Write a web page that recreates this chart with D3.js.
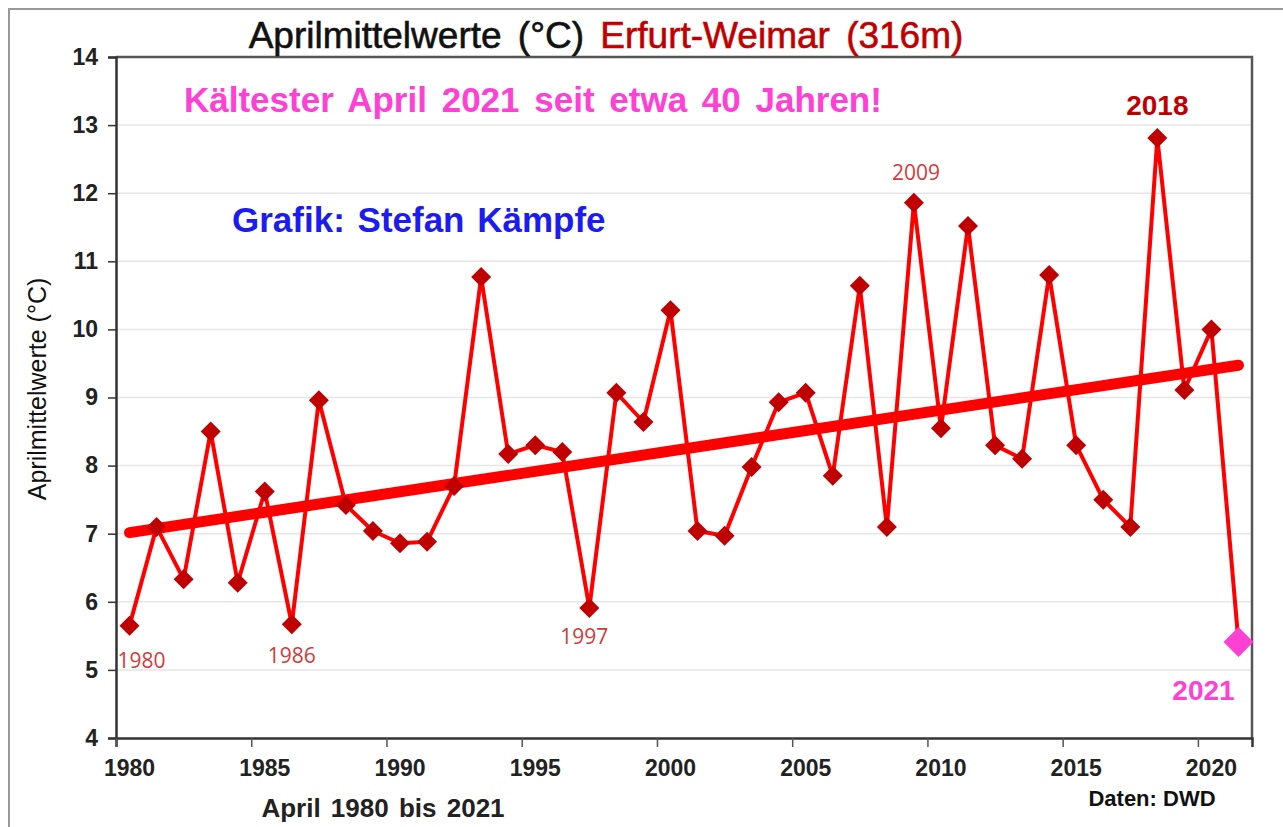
<!DOCTYPE html>
<html>
<head>
<meta charset="utf-8">
<script src="https://cdn.jsdelivr.net/npm/d3@7"></script>
<style>
  body { margin: 0; background: #fff; }
  svg text { font-family: "Liberation Sans", Arial, sans-serif; }
</style>
</head>
<body>
<div id="chart"></div>
<script>
// April mean temperatures Erfurt-Weimar
var years = d3.range(1980, 2022);
var temps = [5.65, 7.1, 6.33, 8.5, 6.28, 7.62, 5.67, 8.96, 7.42, 7.04,
             6.86, 6.88, 7.7, 10.77, 8.17, 8.3, 8.2, 5.91, 9.07, 8.64,
             10.28, 7.04, 6.97, 7.98, 8.93, 9.07, 7.85, 10.64, 7.1, 11.86,
             8.55, 11.52, 8.3, 8.1, 10.8, 8.3, 7.5, 7.1, 12.81, 9.11,
             10.0, 5.41];
var xTicks = d3.range(1980, 2021, 5);
var yTicks = d3.range(4, 15, 1);
// labelled years: [year, dx, dy, style]
var yearLabels = [[1980, 12, 42, "small"], [1986, 0, 39, "small"], [1997, -5, 36, "small"],
                  [2009, 2, -23, "small"], [2018, 0, -23, "big"], [2021, -35, 58, "pink"]];

var width = 1283, height = 827;
var svg = d3.select("#chart").append("svg")
    .attr("width", width)
    .attr("height", height);

// outer frame
svg.append("path")
    .attr("d", "M9," + height + "V9H" + width)
    .attr("fill", "none")
    .attr("stroke", "#999")
    .attr("stroke-width", 2);

var x = d3.scaleLinear().domain([1980, 2022]).range([116, 1252]);
var y = d3.scaleLinear().domain([4, 14]).range([738, 57]);

// gridlines
svg.append("g").selectAll("line")
    .data(yTicks.slice(1, -1))
    .enter().append("line")
    .attr("x1", x(1980)).attr("x2", x(2022))
    .attr("y1", d => y(d)).attr("y2", d => y(d))
    .attr("stroke", "#e6e6e6")
    .attr("stroke-width", 1.5);

// plot border top/right
svg.append("path")
    .attr("d", "M" + x(1980) + "," + y(14) + "H" + x(2022) + "V" + y(4))
    .attr("fill", "none")
    .attr("stroke", "#555")
    .attr("stroke-width", 2.5);

// y axis
var yAxis = svg.append("g")
    .attr("transform", "translate(" + x(1980) + ",0)")
    .call(d3.axisLeft(y).tickValues(yTicks).tickSize(8).tickPadding(10).tickFormat(d3.format("d")));
yAxis.select(".domain").attr("stroke", "#333").attr("stroke-width", 2.5);
yAxis.selectAll(".tick line").attr("stroke", "#333").attr("stroke-width", 1.5);
yAxis.selectAll("text")
    .attr("font-size", 23).attr("font-weight", "bold").attr("fill", "#222")
    .attr("font-family", "Liberation Sans, Arial, sans-serif");

// x axis: ticks at year starts, labels centred in the year
var xAxis = svg.append("g")
    .attr("transform", "translate(0," + y(4) + ")")
    .call(d3.axisBottom(x).tickValues(xTicks).tickSize(9).tickFormat(""));
xAxis.select(".domain").attr("stroke", "#333").attr("stroke-width", 2.5);
xAxis.selectAll(".tick line").attr("stroke", "#555").attr("stroke-width", 1.5);

svg.append("g").selectAll("text")
    .data(xTicks)
    .enter().append("text")
    .attr("x", d => x(d + 0.5))
    .attr("y", 776)
    .attr("text-anchor", "middle")
    .attr("font-size", 23)
    .attr("font-weight", "bold")
    .attr("fill", "#222")
    .text(d => d);

// trend line (least squares)
var n = years.length;
var mx = d3.mean(years), my = d3.mean(temps);
var slope = d3.sum(years, (v, i) => (v - mx) * (temps[i] - my)) / d3.sum(years, v => (v - mx) * (v - mx));
var icpt = my - slope * mx;
var trendYears = [years[0], years[n - 1]];
svg.append("path")
    .datum(trendYears)
    .attr("d", d3.line().x(d => x(d + 0.5)).y(d => y(icpt + slope * d)))
    .attr("stroke", "#ff0000")
    .attr("stroke-width", 11)
    .attr("stroke-linecap", "round")
    .attr("fill", "none");

// data line
var pts = years.map((v, i) => ({year: v, t: temps[i]}));
svg.append("path")
    .datum(pts)
    .attr("d", d3.line().x(d => x(d.year + 0.5)).y(d => y(d.t)))
    .attr("stroke", "#ff0000")
    .attr("stroke-width", 4)
    .attr("stroke-linejoin", "round")
    .attr("fill", "none");

// diamond markers
var diamond = d3.symbol().type(d3.symbolSquare).size(200);
var bigDiamond = d3.symbol().type(d3.symbolSquare).size(450);
svg.append("g").selectAll("path")
    .data(pts)
    .enter().append("path")
    .attr("d", d => d.year === 2021 ? bigDiamond() : diamond())
    .attr("transform", d => "translate(" + x(d.year + 0.5) + "," + y(d.t) + ")rotate(45)")
    .attr("fill", d => d.year === 2021 ? "#ff40d4" : "#c00000");

// year annotations
var labelStyle = {
  small: {size: 21, weight: "normal", fill: "#d23b3b", family: "Open Sans, Noto Sans, sans-serif"},
  big: {size: 28, weight: "bold", fill: "#c00000", family: "Liberation Sans, Arial, sans-serif"},
  pink: {size: 28, weight: "bold", fill: "#ff40d4", family: "Liberation Sans, Arial, sans-serif"}
};
svg.append("g").selectAll("text")
    .data(yearLabels)
    .enter().append("text")
    .attr("x", d => x(d[0] + 0.5) + d[1])
    .attr("y", d => y(temps[d[0] - 1980]) + d[2])
    .attr("text-anchor", "middle")
    .attr("font-size", d => labelStyle[d[3]].size)
    .attr("font-weight", d => labelStyle[d[3]].weight)
    .attr("fill", d => labelStyle[d[3]].fill)
    .style("font-family", d => labelStyle[d[3]].family)
    .text(d => d[0]);

// title
var title = svg.append("text")
    .attr("x", 606).attr("y", 48)
    .attr("text-anchor", "middle")
    .attr("font-size", 37)
    .attr("word-spacing", 6)
    .attr("stroke-width", 0.6);
title.append("tspan").attr("fill", "#111").attr("stroke", "#111").text("Aprilmittelwerte (°C) ");
title.append("tspan").attr("fill", "#c00000").attr("stroke", "#c00000").text("Erfurt-Weimar (316m)");

// notes
svg.append("text")
    .attr("x", 184).attr("y", 112)
    .attr("font-size", 35).attr("font-weight", "bold")
    .attr("word-spacing", 5)
    .attr("fill", "#ff40d4")
    .text("Kältester April 2021 seit etwa 40 Jahren!");

svg.append("text")
    .attr("x", 232).attr("y", 232)
    .attr("font-size", 35).attr("font-weight", "bold")
    .attr("word-spacing", 3)
    .attr("fill", "#1c1cf0")
    .text("Grafik: Stefan Kämpfe");

// axis titles
svg.append("text")
    .attr("transform", "translate(46,389)rotate(-90)")
    .attr("text-anchor", "middle")
    .attr("font-size", 25)
    .attr("fill", "#111")
    .text("Aprilmittelwerte (°C)");

svg.append("text")
    .attr("x", 383).attr("y", 817)
    .attr("text-anchor", "middle")
    .attr("font-size", 26).attr("font-weight", "bold")
    .attr("word-spacing", 3)
    .attr("fill", "#222")
    .text("April 1980 bis 2021");

svg.append("text")
    .attr("x", 1152).attr("y", 806)
    .attr("text-anchor", "middle")
    .attr("font-size", 22).attr("font-weight", "bold")
    .attr("fill", "#111")
    .text("Daten: DWD");
</script>
</body>
</html>
